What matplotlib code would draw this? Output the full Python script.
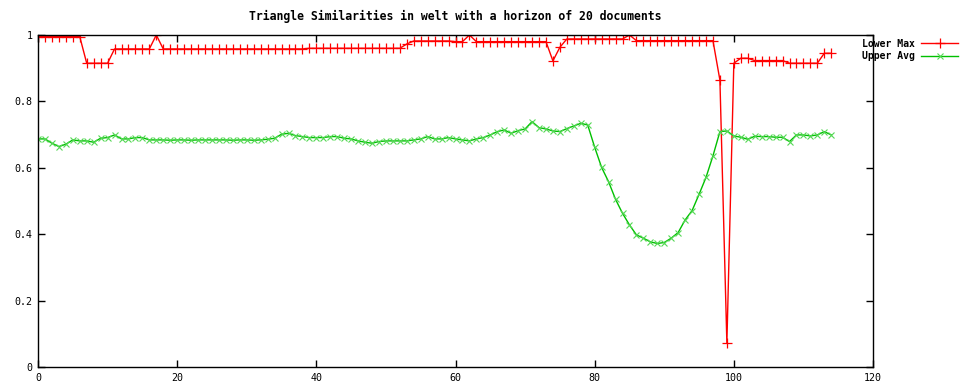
import matplotlib
matplotlib.use('Agg')
import matplotlib.pyplot as plt

# documents 0..114
lower_max = ([0.995] * 7 + [0.915] * 4 + [0.958] * 6 + [1.0] + [0.958] * 21 +
             [0.96] * 14 + [0.973] + [0.982] * 6 + [0.98] * 2 + [1.0] +
             [0.98] * 11 + [0.922, 0.963] + [0.988] * 9 + [1.0] + [0.983] * 12 +
             [0.864, 0.072, 0.915, 0.93, 0.93] + [0.923] * 5 + [0.915] * 5 +
             [0.945, 0.945])

upper_avg = [0.687, 0.687, 0.674, 0.664, 0.671, 0.684, 0.681, 0.681, 0.677, 0.689,
             0.691, 0.699, 0.687, 0.687, 0.691, 0.691, 0.684, 0.684, 0.684, 0.683,
             0.684, 0.684, 0.683, 0.684, 0.684, 0.684, 0.684, 0.684, 0.683, 0.684,
             0.684, 0.683, 0.684, 0.686, 0.689, 0.701, 0.704, 0.697, 0.694, 0.691,
             0.691, 0.691, 0.694, 0.694, 0.689, 0.687, 0.681, 0.677, 0.674, 0.679,
             0.681, 0.681, 0.681, 0.681, 0.684, 0.687, 0.694, 0.687, 0.687, 0.691,
             0.687, 0.684, 0.681, 0.687, 0.691, 0.699, 0.709, 0.714, 0.704, 0.712,
             0.717, 0.739, 0.721, 0.717, 0.711, 0.709, 0.718, 0.726, 0.734, 0.729,
             0.662, 0.601, 0.558, 0.505, 0.463, 0.428, 0.398, 0.388, 0.377, 0.372,
             0.375, 0.388, 0.405, 0.443, 0.471, 0.520, 0.571, 0.636, 0.709, 0.711,
             0.696, 0.692, 0.686, 0.695, 0.694, 0.694, 0.692, 0.692, 0.679, 0.699,
             0.699, 0.696, 0.699, 0.709, 0.699]

docs = list(range(len(upper_avg)))

xticks = [0, 20, 40, 60, 80, 100, 120]
yticks = [0, 0.2, 0.4, 0.6, 0.8, 1]
ytick_labels = ['0', '0.2', '0.4', '0.6', '0.8', '1']

plt.rcParams['font.family'] = ['DejaVu Sans Mono']
plt.rcParams['font.size'] = 7.2

fig = plt.figure(figsize=(9.66, 3.88), dpi=100)
ax = fig.add_axes([38 / 966, 1 - 367 / 388, 835 / 966, 332 / 388])

ax.plot(docs, lower_max, color='#ff0000', lw=1, marker='+', ms=7, mew=0.9,
        label='Lower Max')
ax.plot(docs, upper_avg, color='#00c000', lw=1, marker='x', ms=5, mew=0.8,
        mec='#55d855', label='Upper Avg')

ax.set_xlim(0, 120)
ax.set_ylim(0, 1)
ax.set_xticks(xticks)
ax.set_yticks(yticks)
ax.set_yticklabels(ytick_labels)
ax.tick_params(direction='in', length=5, width=1, top=True, right=True, pad=4)
for s in ax.spines.values():
    s.set_linewidth(1)

ax.set_title('Triangle Similarities in welt with a horizon of 20 documents',
             fontweight='bold', fontsize=8.3, pad=11)

fig.legend(loc='upper right', bbox_to_anchor=(963 / 966, 1 - 34 / 388),
           frameon=False, markerfirst=False, handlelength=3.8, borderpad=0,
           labelspacing=0.25, handletextpad=0.6,
           prop={'weight': 'bold', 'size': 7})

fig.savefig('out.png', dpi=100)
